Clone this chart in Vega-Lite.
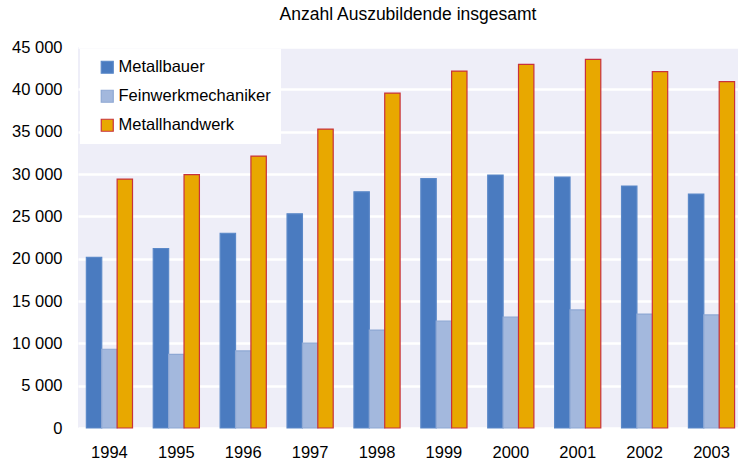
{
  "$schema": "https://vega.github.io/schema/vega-lite/v6.json",
  "width": 660,
  "height": 381,
  "autosize": "none",
  "padding": {"left": 78, "top": 47, "right": 0, "bottom": 35},
  "background": "white",
  "config": {
    "locale": {"number": {"decimal": ",", "thousands": " ", "grouping": [3], "currency": ["", " €"]}},
    "view": {"fill": "#EEEEF8", "stroke": null},
    "font": "Liberation Sans",
    "axis": {"labelFont": "Liberation Sans", "labelFontSize": 16.5, "labelColor": "#000000", "domain": false, "ticks": false, "title": null},
    "legend": {"labelFont": "Liberation Sans", "labelFontSize": 16.5, "labelColor": "#000000"}
  },
  "title": {"text": "Anzahl Auszubildende insgesamt", "fontSize": 17.5, "fontWeight": "normal", "font": "Liberation Sans", "color": "#000000", "anchor": "middle", "offset": 16},
  "data": {"values": [
    {"year": "1994", "series": "Metallbauer", "value": 20150},
    {"year": "1995", "series": "Metallbauer", "value": 21200},
    {"year": "1996", "series": "Metallbauer", "value": 23000},
    {"year": "1997", "series": "Metallbauer", "value": 25300},
    {"year": "1998", "series": "Metallbauer", "value": 27900},
    {"year": "1999", "series": "Metallbauer", "value": 29450},
    {"year": "2000", "series": "Metallbauer", "value": 29880},
    {"year": "2001", "series": "Metallbauer", "value": 29640},
    {"year": "2002", "series": "Metallbauer", "value": 28580},
    {"year": "2003", "series": "Metallbauer", "value": 27630},
    {"year": "1994", "series": "Feinwerkmechaniker", "value": 9300},
    {"year": "1995", "series": "Feinwerkmechaniker", "value": 8700},
    {"year": "1996", "series": "Feinwerkmechaniker", "value": 9100},
    {"year": "1997", "series": "Feinwerkmechaniker", "value": 10040},
    {"year": "1998", "series": "Feinwerkmechaniker", "value": 11570},
    {"year": "1999", "series": "Feinwerkmechaniker", "value": 12640},
    {"year": "2000", "series": "Feinwerkmechaniker", "value": 13110},
    {"year": "2001", "series": "Feinwerkmechaniker", "value": 13940},
    {"year": "2002", "series": "Feinwerkmechaniker", "value": 13460},
    {"year": "2003", "series": "Feinwerkmechaniker", "value": 13350},
    {"year": "1994", "series": "Metallhandwerk", "value": 29400},
    {"year": "1995", "series": "Metallhandwerk", "value": 29920},
    {"year": "1996", "series": "Metallhandwerk", "value": 32120},
    {"year": "1997", "series": "Metallhandwerk", "value": 35310},
    {"year": "1998", "series": "Metallhandwerk", "value": 39560},
    {"year": "1999", "series": "Metallhandwerk", "value": 42160},
    {"year": "2000", "series": "Metallhandwerk", "value": 42950},
    {"year": "2001", "series": "Metallhandwerk", "value": 43540},
    {"year": "2002", "series": "Metallhandwerk", "value": 42080},
    {"year": "2003", "series": "Metallhandwerk", "value": 40900}
  ]},
  "mark": {"type": "bar", "strokeWidth": 1.2},
  "encoding": {
    "x": {"field": "year", "type": "nominal", "scale": {"paddingInner": 0.31, "paddingOuter": 0.088, "align": 0.71}, "axis": {"labelAngle": 0, "labelPadding": 16, "grid": false}},
    "xOffset": {"field": "series", "type": "nominal", "sort": ["Metallbauer", "Feinwerkmechaniker", "Metallhandwerk"], "scale": {"paddingInner": 0}},
    "y": {"field": "value", "type": "quantitative", "scale": {"domain": [0, 45000], "nice": false}, "axis": {"values": [0, 5000, 10000, 15000, 20000, 25000, 30000, 35000, 40000, 45000], "format": ",d", "labelPadding": 16, "grid": true, "gridColor": "#FFFFFF", "gridWidth": 2.5}},
    "color": {"field": "series", "type": "nominal", "scale": {"domain": ["Metallbauer", "Feinwerkmechaniker", "Metallhandwerk"], "range": ["#4A7BC0", "#A3B8DD", "#E8A800"]},
      "legend": {"title": null, "orient": "top-left", "offset": 2, "fillColor": "#FFFFFF", "padding": 10, "symbolType": "square", "symbolSize": 144, "symbolOffset": 9, "symbolStrokeWidth": 1.2, "rowPadding": 11, "labelOffset": 3, "labelLimit": 300}},
    "stroke": {"field": "series", "type": "nominal", "scale": {"domain": ["Metallbauer", "Feinwerkmechaniker", "Metallhandwerk"], "range": ["#5A88C8", "#8EA8D4", "#C8323C"]}}
  }
}
